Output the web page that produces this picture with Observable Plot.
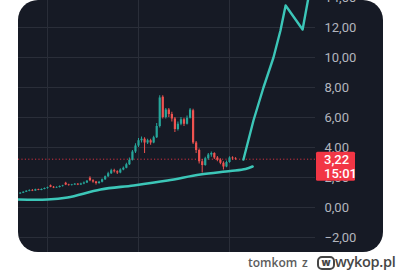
<!DOCTYPE html>
<html>
<head>
<meta charset="utf-8">
<script src="https://cdn.jsdelivr.net/npm/d3@7"></script>
<script src="https://cdn.jsdelivr.net/npm/@observablehq/plot@0.6"></script>
<style>
  html, body { margin: 0; padding: 0; background: #ffffff; }
  #page { position: relative; width: 400px; height: 272px; overflow: hidden; background: #fff; }
  #panel { position: absolute; left: 18px; top: 0px; width: 365px; height: 252px; border-radius: 20px; background: #161a25; overflow: hidden; }
  #panel svg { display: block; }
  .wm { position: absolute; font-family: "Open Sans", sans-serif; white-space: nowrap; }
</style>
</head>
<body>
<div id="page">
  <div id="panel"></div>
  <span class="wm" style="left:248px; top:254px; font-size:12px; font-weight:600; color:#5c5c5c;">tomkom</span>
  <span class="wm" style="left:302px; top:254px; font-size:12px; font-weight:600; color:#5c5c5c;">z</span>
  <span class="wm" style="left:317px; top:256px; width:14px; height:10px; border:2px solid #464646; border-radius:5px; font-size:10px; line-height:9px; font-weight:800; color:#464646; text-align:center;">w</span>
  <span class="wm" style="left:335px; top:252px; font-size:14.5px; font-weight:600; color:#464646; letter-spacing:-0.3px;">wykop.pl</span>
</div>
<script>
// ---- data ----
const candleOpen  = [0.90,0.95,1.02,1.08,1.14,1.10,1.18,1.14,1.20,1.26,1.45,1.35,1.30,1.34,1.40,1.62,1.50,1.46,1.50,1.55,1.50,1.56,1.64,1.95,1.78,1.70,1.60,1.68,1.85,2.05,2.25,2.45,2.38,2.30,2.50,2.62,2.85,3.15,3.70,4.10,4.45,4.55,4.30,4.45,4.30,4.65,5.40,7.35,6.00,6.50,6.20,5.90,5.20,5.55,5.85,5.55,5.95,6.45,4.30,3.80,3.05,2.80,3.25,3.50,3.60,3.30,3.15,2.95,2.70,3.00,3.30,3.25];
const candleClose = [0.95,1.02,1.08,1.14,1.10,1.18,1.14,1.20,1.26,1.32,1.35,1.30,1.34,1.40,1.44,1.50,1.46,1.50,1.55,1.50,1.56,1.64,1.75,1.78,1.70,1.60,1.68,1.85,2.05,2.25,2.45,2.38,2.30,2.50,2.62,2.85,3.15,3.70,4.10,4.45,4.55,4.30,4.45,4.30,4.65,5.40,7.30,6.00,6.50,6.20,5.90,5.20,5.55,5.85,5.55,5.95,6.50,4.30,3.80,3.05,2.80,3.25,3.50,3.60,3.30,3.15,2.95,2.70,3.00,3.30,3.25,3.22];
const candleHigh  = [1.00,1.05,1.12,1.18,1.20,1.22,1.22,1.24,1.30,1.36,1.50,1.40,1.38,1.44,1.48,1.68,1.55,1.54,1.60,1.60,1.62,1.70,1.80,2.05,1.85,1.74,1.74,1.90,2.10,2.35,2.55,2.55,2.45,2.58,2.70,2.95,3.30,3.80,4.25,4.60,4.70,4.65,4.55,4.55,4.75,5.60,7.45,7.45,6.60,6.60,6.35,6.00,5.70,6.00,5.95,6.10,6.60,6.55,4.40,3.90,3.20,3.35,3.60,3.70,3.65,3.40,3.25,3.05,3.10,3.38,3.38,3.32];
const candleLow   = [0.88,0.93,1.00,1.05,1.06,1.08,1.12,1.12,1.18,1.22,1.32,1.26,1.27,1.30,1.36,1.46,1.42,1.43,1.47,1.46,1.47,1.52,1.60,1.72,1.62,1.50,1.55,1.64,1.80,2.00,2.20,2.30,2.20,2.25,2.45,2.58,2.80,3.10,3.60,4.00,4.30,3.60,4.20,4.15,4.25,4.60,5.30,5.90,5.90,6.00,5.70,5.00,5.10,5.45,5.40,5.50,5.90,4.20,3.60,2.90,2.30,2.75,3.15,3.35,3.20,3.05,2.85,2.50,2.65,2.95,3.15,3.15];
const firstCandleT = -9;

const trendT = [-9.6, 0, 6.6, 17.5, 28.4, 39.6, 50.4, 60.3, 65.3, 67.6];
const trendV = [0.53, 0.53, 0.67, 1.20, 1.47, 1.80, 2.20, 2.43, 2.57, 2.73];

const projT = [64.6, 67.9, 71.2, 74.5, 76.8, 78.5, 84.1, 86.3];
const projV = [3.20, 5.80, 8.00, 10.00, 11.80, 13.47, 11.87, 14.30];

const yTicks = [-2, 0, 2, 4, 6, 8, 10, 12, 14];
const xGrid = [0, 30, 60];
const lastPrice = 3.22;
const lastPriceLabel = "3,22";
const countdownLabel = "15:01";

// ---- build tables ----
const candles = candleClose.map((c, i) => ({
  t: firstCandleT + i, open: candleOpen[i], close: c, high: candleHigh[i], low: candleLow[i],
  up: c >= candleOpen[i]
}));
const trend = trendT.map((t, i) => ({t, v: trendV[i]}));
const proj = projT.map((t, i) => ({t, v: projV[i]}));

const GREEN = "#26a69a", RED = "#ef5350", TEAL = "#3cc6b8";
const fmt = d => (d < 0 ? "\u2212" : "") + Math.abs(d).toFixed(2).replace(".", ",");

function priceBox(index, scales, values, dims) {
  const g = d3.create("svg:g").attr("text-anchor", "start");
  const y0 = scales.y(lastPrice);
  const x0 = dims.width - dims.marginRight + 1;
  g.append("rect").attr("x", x0).attr("y", y0 - 7).attr("width", 39).attr("height", 29)
    .attr("rx", 1.5).attr("fill", "#f23645");
  g.append("text").attr("x", x0 + 8).attr("y", y0 + 0.5).attr("dy", "0.36em")
    .attr("fill", "#ffffff").attr("font-size", 13).attr("font-weight", 500).text(lastPriceLabel);
  g.append("text").attr("x", x0 + 8).attr("y", y0 + 14.5).attr("dy", "0.36em")
    .attr("fill", "#ffffff").attr("font-size", 13).attr("font-weight", 500).text(countdownLabel);
  return g.node();
}

const chart = Plot.plot({
  width: 365,
  height: 252,
  marginLeft: 0,
  marginRight: 68,
  marginTop: 0,
  marginBottom: 0,
  x: {domain: [-9.56, 88.35], axis: null},
  y: {domain: [-3, 13.8], axis: null},
  style: {background: "transparent", color: "#b2b5be", fontFamily: "Roboto, sans-serif", fontSize: "13px"},
  marks: [
    Plot.gridY(yTicks, {stroke: "#2a2e39", strokeOpacity: 1}),
    Plot.gridX(xGrid, {stroke: "#2a2e39", strokeOpacity: 1}),
    Plot.ruleY([lastPrice], {stroke: "#f23645", strokeDasharray: "1.2,2.2", strokeOpacity: 0.85}),
    Plot.line(trend, {x: "t", y: "v", stroke: TEAL, strokeWidth: 2.6, curve: "catmull-rom"}),
    Plot.ruleX(candles, {x: "t", y1: "low", y2: "high", stroke: d => d.up ? GREEN : RED, strokeWidth: 1}),
    Plot.ruleX(candles, {x: "t", y1: "open", y2: "close", stroke: d => d.up ? GREEN : RED, strokeWidth: 2.2}),
    Plot.line(proj, {x: "t", y: "v", stroke: TEAL, strokeWidth: 2.4, curve: "linear"}),
    Plot.axisY(yTicks, {anchor: "right", tickSize: 0, tickPadding: 9, tickFormat: fmt, fill: "#b2b5be"}),
    priceBox
  ]
});
document.getElementById("panel").appendChild(chart);
</script>
</body>
</html>
